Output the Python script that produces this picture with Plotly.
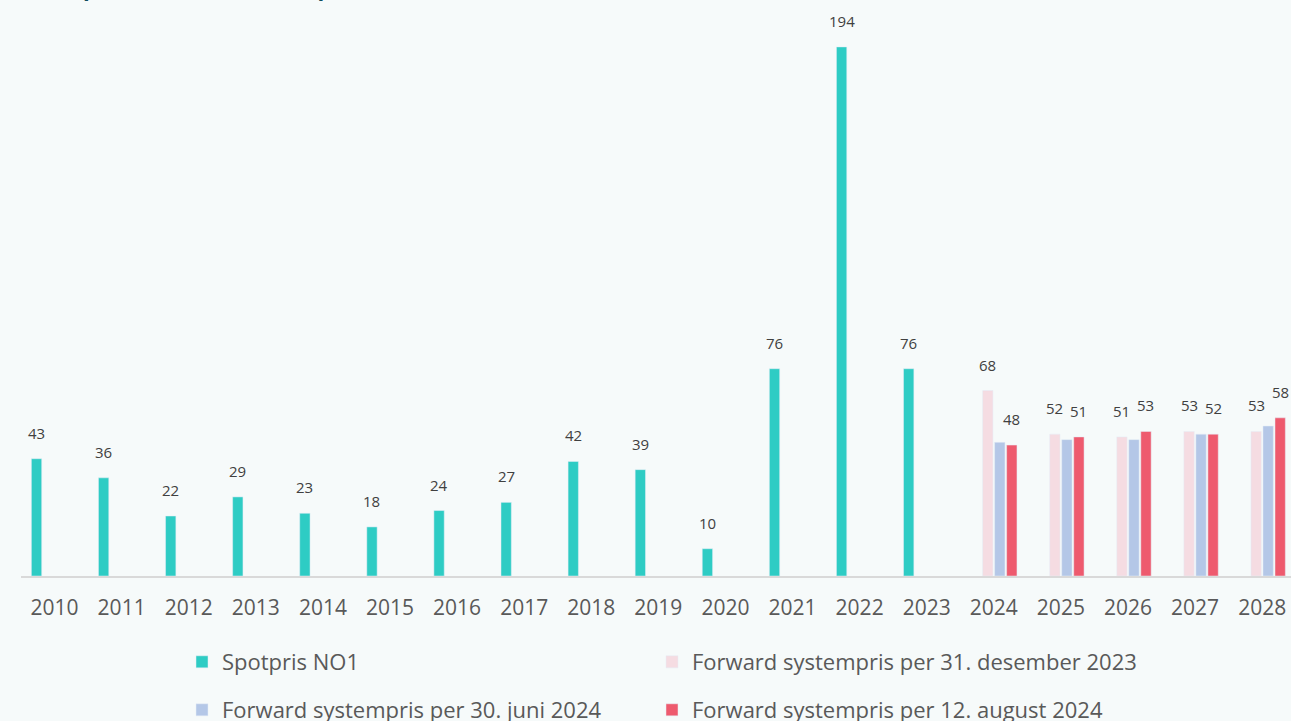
import plotly.graph_objects as go

spot_years = [str(y) for y in range(2010, 2024)]
spot_values = [43, 36, 22, 29, 23, 18, 24, 27, 42, 39, 10, 76, 194, 76]

fwd_years = [str(y) for y in range(2024, 2029)]
fwd_dec2023 = [68, 52, 51, 53, 53]
fwd_jun2024 = [49, 50, 50, 52, 55]
fwd_aug2024 = [48, 51, 53, 52, 58]

all_years = [str(y) for y in range(2010, 2029)]

names = ["Spotpris NO1", "Forward systempris per 31. desember 2023",
         "Forward systempris per 30. juni 2024", "Forward systempris per 12. august 2024"]
colors = ["#2ECCC4", "#F5DCE2", "#B4C7E7", "#EE5A6E"]
BG = "#F6FAFA"

W, H = 1291, 721
PLOT_BOTTOM = 576
BARGAP = 0.284
N_SLOTS = 4

series = [
    (spot_years, spot_values, True),
    (fwd_years, fwd_dec2023, True),
    (fwd_years, fwd_jun2024, False),
    (fwd_years, fwd_aug2024, True),
]

fig = go.Figure()
annotations = []
slot_w = (1 - BARGAP) / N_SLOTS
for i, (xs, ys, labelled) in enumerate(series):
    fig.add_trace(go.Bar(x=xs, y=ys, name=names[i], marker_color=colors[i],
                         cliponaxis=False, legend="legend" if i == 0 else f"legend{i + 1}"))
    if labelled:
        off = (i - (N_SLOTS - 1) / 2) * slot_w
        for xv, yv in zip(xs, ys):
            annotations.append(dict(
                x=all_years.index(xv) + off, y=yv, xref="x", yref="y",
                text=f"{yv:.0f}", showarrow=False, xanchor="center", yanchor="bottom",
                yshift=14, font=dict(family="Open Sans", size=15, color="#404040")))

annotations.append(dict(text="<b>Strømpriser Østlandet (øre per kWh)</b>",
                        xref="paper", yref="paper", x=-7 / 1270,
                        y=(PLOT_BOTTOM - 4) / PLOT_BOTTOM,
                        xanchor="left", yanchor="bottom", showarrow=False,
                        font=dict(family="Open Sans", size=22, color="#0F4C5C")))

legend_common = dict(orientation="h", xref="container", yref="container",
                     xanchor="left", yanchor="middle",
                     font=dict(family="Open Sans", size=22, color="#595959"),
                     bgcolor="rgba(0,0,0,0)", itemclick=False)
legend_pos = [(182, 662), (652, 662), (182, 710), (652, 710)]
legends = {}
for i, (lx, ly) in enumerate(legend_pos):
    key = "legend" if i == 0 else f"legend{i + 1}"
    legends[key] = dict(**legend_common, x=lx / W, y=1 - ly / H)

fig.update_layout(
    width=W, height=H,
    barmode="group", bargap=BARGAP, bargroupgap=0.14,
    paper_bgcolor=BG, plot_bgcolor=BG,
    margin=dict(l=21, r=0, t=0, b=H - PLOT_BOTTOM),
    showlegend=True,
    xaxis=dict(type="category", categoryorder="array", categoryarray=all_years,
               range=[-0.5, 18.43], showline=True, linecolor="#D9D9D9", linewidth=1.5,
               ticks="", showgrid=False, ticklabelstandoff=12,
               tickfont=dict(family="Open Sans", size=21, color="#595959")),
    yaxis=dict(visible=False, range=[0, 211.2], showgrid=False, zeroline=False),
    annotations=annotations,
    **legends,
)

fig.write_html("out.html", config={"displayModeBar": False},
               post_script=f"document.body.style.margin='0';document.body.style.background='{BG}';")
